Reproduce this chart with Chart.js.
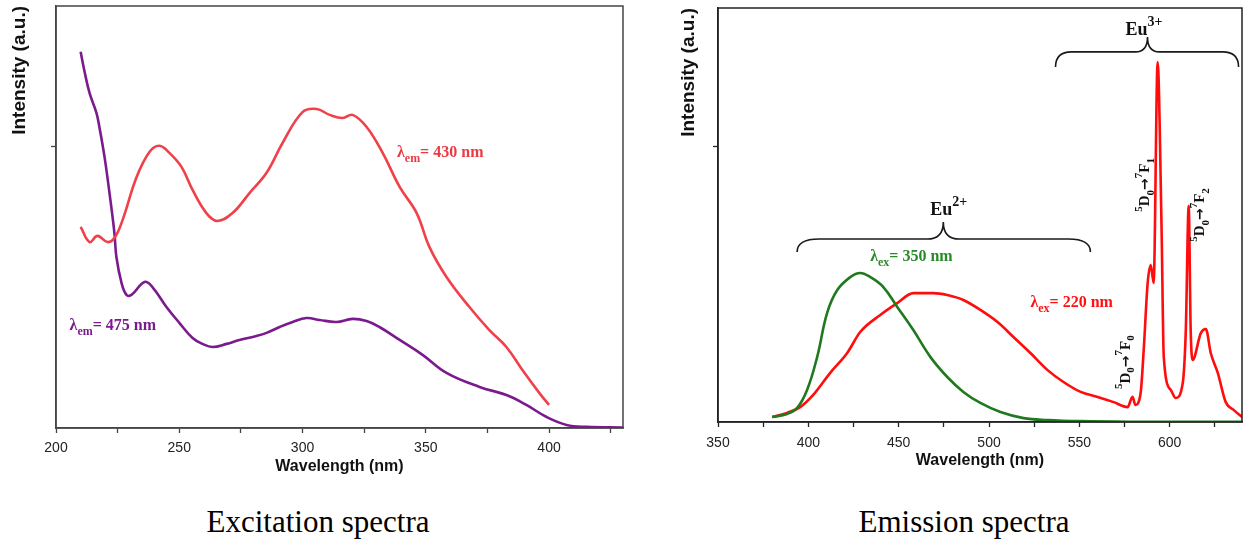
<!DOCTYPE html>
<html>
<head>
<meta charset="utf-8">
<title>Excitation and emission spectra</title>
<script src="https://cdn.jsdelivr.net/npm/chart.js@4.4.1/dist/chart.umd.min.js"></script>
<style>
  html, body { margin: 0; padding: 0; background: #fff; }
  #page { position: relative; width: 1250px; height: 544px; overflow: hidden; }
  canvas { position: absolute; top: 0; }
  #exc { left: 0; }
  #emi { left: 650px; }
  .caption {
    position: absolute; top: 506px; line-height: 31px;
    font-family: 'Liberation Serif', 'Times New Roman', serif; font-size: 31px;
    color: #000; white-space: nowrap; transform: translateX(-50%);
  }
</style>
</head>
<body>
<div id="page">
  <canvas id="exc" width="650" height="480"></canvas>
  <canvas id="emi" width="600" height="480"></canvas>
  <div class="caption" style="left:318px">Excitation spectra</div>
  <div class="caption" style="left:964px">Emission spectra</div>
</div>
<script>
// ---- excitation spectra (monitored at 430 nm and 475 nm) ----
var exc430X = [210, 213.6, 216.8, 220.9, 223.7, 227, 232.7, 237.9, 241.9, 246,
  250.9, 255.4, 261, 265.5, 271.6, 278.5, 285.4, 291.9, 300, 305.7,
  311, 316.3, 320.3, 326, 332.5, 339.4, 346.3, 351.5, 358.4, 367.7,
  375.8, 382.7, 389.2, 396.1, 400];
var exc430Y = [0.715, 0.661, 0.683, 0.661, 0.675, 0.739, 0.892, 0.981, 1.003, 0.978,
  0.928, 0.846, 0.764, 0.736, 0.764, 0.835, 0.907, 1.013, 1.123, 1.134,
  1.113, 1.102, 1.113, 1.070, 0.978, 0.857, 0.764, 0.643, 0.537, 0.430,
  0.348, 0.288, 0.206, 0.124, 0.082];

var exc475X = [210, 211.6, 213.6, 216.4, 217.6, 219.7, 221.7, 223.7, 224.5, 226.6,
  228.6, 230.6, 235.9, 239.1, 244.8, 250.1, 255.4, 259.4, 263.5, 269.2,
  274.4, 281.3, 285.4, 290.7, 296, 301.6, 306.9, 313.8, 320.3, 326,
  331.2, 339.4, 348.7, 358.4, 371.8, 382.7, 390.8, 399, 407.1, 415.2, 430];
var exc475Y = [1.337, 1.266, 1.191, 1.120, 1.070, 0.963, 0.835, 0.693, 0.608, 0.515,
  0.473, 0.473, 0.519, 0.501, 0.430, 0.373, 0.320, 0.299, 0.288, 0.299,
  0.313, 0.327, 0.338, 0.359, 0.377, 0.391, 0.384, 0.377, 0.388, 0.380,
  0.359, 0.313, 0.260, 0.196, 0.146, 0.117, 0.082, 0.039, 0.011, 0.004, 0.002];

// ---- emission spectra (excited at 350 nm and 220 nm) ----
var em350X = [380, 388.2, 393.8, 399.3, 404.9, 410.4, 416, 423.2, 428.7, 434.3,
  441.5, 449.2, 458.1, 467.5, 476.9, 485.8, 495.2, 506.3, 519.1, 532.4,
  550.7, 580, 610, 640];
var em350Y = [0.018, 0.029, 0.051, 0.116, 0.236, 0.395, 0.478, 0.525, 0.540, 0.525,
  0.489, 0.417, 0.333, 0.236, 0.163, 0.109, 0.069, 0.036, 0.014, 0.007,
  0.003, 0.001, 0.001, 0.001];

var em220X = [380, 388.2, 395.5, 402.7, 412.1, 421.5, 428.7, 439.8, 449.2, 458.1,
  469.2, 476.9, 485.8, 495.2, 504.7, 513.5, 522.9, 532.4, 541.2, 550.7,
  560.1, 569, 576.7, 579.4, 581, 583.9, 585.6, 587.8, 589.5, 591.1,
  593.3, 595.5, 596.7, 600.6, 603.3, 607.2, 608.9, 610.5, 611.6, 612.7,
  617.2, 620, 622.7, 626.6, 631, 635.5, 640];
var em220Y = [0.018, 0.033, 0.054, 0.098, 0.178, 0.250, 0.326, 0.388, 0.431, 0.467,
  0.467, 0.460, 0.442, 0.406, 0.362, 0.308, 0.250, 0.188, 0.145, 0.109,
  0.091, 0.072, 0.054, 0.091, 0.062, 0.105, 0.261, 0.504, 0.569, 0.504,
  1.304, 0.696, 0.236, 0.116, 0.087, 0.141, 0.333, 0.783, 0.333, 0.225,
  0.322, 0.337, 0.250, 0.178, 0.072, 0.043, 0.018];

// axis ticks
var excTicks = [200, 225, 250, 275, 300, 325, 350, 375, 400, 425];
var excTickLabels = [200, 250, 300, 350, 400];
var emiTicks = [350, 375, 400, 425, 450, 475, 500, 525, 550, 575, 600, 625];
var emiTickLabels = [350, 400, 450, 500, 550, 600];
var intensityTicks = [1];

var SANS = "'Liberation Sans', Arial, sans-serif";
var SERIF = "'Liberation Serif', 'Times New Roman', serif";
var ARROW_FONT = "'DejaVu Sans', sans-serif";

function zip(xs, ys) {
  return xs.map(function(x, i) { return { x: x, y: ys[i] }; });
}

function pieceFont(mode, size, small) {
  if (mode === 'arrow') return 'bold ' + Math.round(size * 0.95) + 'px ' + ARROW_FONT;
  return 'bold ' + (mode === 'sub' || mode === 'sup' ? small : size) + 'px ' + SERIF;
}

// draws text made of normal / sub / sup pieces, bold serif
function drawRich(ctx, parts, x, y, size, color, centered, smallScale) {
  var small = Math.round(size * (smallScale || 0.72));
  var widths = parts.map(function(p) {
    ctx.font = pieceFont(p[1], size, small);
    return ctx.measureText(p[0]).width;
  });
  var total = widths.reduce(function(a, b) { return a + b; }, 0);
  var cx = centered ? x - total / 2 : x;
  ctx.fillStyle = color;
  ctx.textBaseline = 'middle';
  ctx.textAlign = 'left';
  parts.forEach(function(p, i) {
    var dy = p[1] === 'sub' ? size * 0.35 : p[1] === 'sup' ? -size * 0.45 : 0;
    ctx.font = pieceFont(p[1], size, small);
    ctx.fillText(p[0], cx, y + dy);
    cx += widths[i];
  });
}

function drawBrace(ctx, x1, xm, x2, yEnd, yLine, yTip, rEnd, rTip) {
  ctx.beginPath();
  ctx.moveTo(x1, yEnd);
  ctx.quadraticCurveTo(x1, yLine, x1 + rEnd, yLine);
  ctx.lineTo(xm - rTip, yLine);
  ctx.quadraticCurveTo(xm, yLine, xm, yTip);
  ctx.quadraticCurveTo(xm, yLine, xm + rTip, yLine);
  ctx.lineTo(x2 - rEnd, yLine);
  ctx.quadraticCurveTo(x2, yLine, x2, yEnd);
  ctx.stroke();
}

// frame, braces and text notes placed in data coordinates
var specNotes = {
  id: 'specNotes',
  afterDatasetsDraw: function(chart, args, opts) {
    var ctx = chart.ctx, sx = chart.scales.x, sy = chart.scales.y, a = chart.chartArea;
    ctx.save();
    ctx.strokeStyle = opts.frameColor;
    ctx.lineWidth = 1.5;
    ctx.strokeRect(a.left, a.top, a.right - a.left, a.bottom - a.top);

    ctx.strokeStyle = '#1a1a1a';
    ctx.lineWidth = 1.6;
    (opts.braces || []).forEach(function(b) {
      drawBrace(ctx, sx.getPixelForValue(b.x1), sx.getPixelForValue(b.xm), sx.getPixelForValue(b.x2),
        sy.getPixelForValue(b.yEnd), sy.getPixelForValue(b.yLine), sy.getPixelForValue(b.yTip),
        b.rEnd, b.rTip);
    });

    (opts.labels || []).forEach(function(l) {
      var px = sx.getPixelForValue(l.x), py = sy.getPixelForValue(l.y);
      if (l.rotate) {
        ctx.save();
        ctx.translate(px, py);
        ctx.rotate(-Math.PI / 2);
        drawRich(ctx, l.parts, 0, 0, l.size, l.color, true, l.smallScale);
        ctx.restore();
      } else {
        drawRich(ctx, l.parts, px, py, l.size, l.color, false, l.smallScale);
      }
    });
    ctx.restore();
  }
};

function axisX(min, max, ticks, labels, frame, fitHeight, tickPad, titlePad) {
  return {
    type: 'linear', min: min, max: max,
    afterBuildTicks: function(s) { s.ticks = ticks.map(function(v) { return { value: v }; }); },
    ticks: {
      autoSkip: false, maxRotation: 0, padding: tickPad, color: '#222',
      font: { family: SANS, size: 14 },
      callback: function(v) { return labels.indexOf(v) >= 0 ? String(v) : ''; }
    },
    grid: { drawOnChartArea: false, drawTicks: true, tickLength: 5, tickColor: frame, tickWidth: 1.3 },
    border: { display: true, color: frame, width: 1.5 },
    title: {
      display: true, text: 'Wavelength (nm)', color: '#111',
      font: { family: SANS, size: 16, weight: 'bold' },
      padding: { top: 0, bottom: titlePad }
    },
    afterFit: function(s) { s.height = fitHeight; }
  };
}

function axisY(frame, fitWidth, titlePad) {
  return {
    type: 'linear', min: 0, max: 1.5,
    afterBuildTicks: function(s) { s.ticks = intensityTicks.map(function(v) { return { value: v }; }); },
    ticks: { display: false },
    grid: { drawOnChartArea: false, drawTicks: true, tickLength: 5, tickColor: frame, tickWidth: 1.3 },
    border: { display: true, color: frame, width: 1.5 },
    title: {
      display: true, text: 'Intensity (a.u.)', align: 'end', color: '#111',
      font: { family: SANS, size: 19, weight: 'bold' },
      padding: { top: titlePad, bottom: 0 }
    },
    afterFit: function(s) { s.width = fitWidth; }
  };
}

// smooth band curves use tension, the sharp Eu3+ lines keep monotone segments
function line(points, color, sharp) {
  var ds = {
    data: points, borderColor: color, borderWidth: 2.6,
    pointRadius: 0, fill: false
  };
  if (sharp) ds.cubicInterpolationMode = 'monotone';
  else ds.tension = 0.4;
  return ds;
}

var common = {
  responsive: false, animation: false, devicePixelRatio: 1, events: [],
  parsing: false
};

var ARROW_PARTS = function(n) {
  return [['5', 'sup'], ['D', ''], ['0', 'sub'], ['→', 'arrow'], ['7', 'sup'], ['F', ''], [n, 'sub']];
};

// ============ EXCITATION ============
new Chart(document.getElementById('exc'), {
  type: 'line',
  data: {
    datasets: [
      line(zip(exc430X, exc430Y), '#f0404a'),
      line(zip(exc475X, exc475Y), '#7b1a8e')
    ]
  },
  options: Object.assign({}, common, {
    layout: { padding: { top: 6, right: 27, left: 0, bottom: 0 } },
    scales: {
      x: axisX(200, 430, excTicks, excTickLabels, '#444', 52, 7, 4),
      y: axisY('#444', 56, 8)
    },
    plugins: {
      legend: { display: false },
      tooltip: { enabled: false },
      specNotes: {
        frameColor: '#444',
        labels: [
          { x: 338.3, y: 0.977, size: 16, color: '#ea3a44',
            parts: [['λ', ''], ['em', 'sub'], ['= 430 nm', '']] },
          { x: 205.5, y: 0.363, size: 16, color: '#7b1a8e',
            parts: [['λ', ''], ['em', 'sub'], ['= 475 nm', '']] }
        ]
      }
    }
  }),
  plugins: [specNotes]
});

// ============ EMISSION ============
new Chart(document.getElementById('emi'), {
  type: 'line',
  data: {
    datasets: [
      line(zip(em350X, em350Y), '#1f7a1f'),
      line(zip(em220X, em220Y), '#ff0c0c', true)
    ]
  },
  options: Object.assign({}, common, {
    layout: { padding: { top: 8, right: 8, left: 0, bottom: 0 } },
    scales: {
      x: axisX(350, 640, emiTicks, emiTickLabels, '#222', 58, 8, 10),
      y: axisY('#222', 68, 27)
    },
    plugins: {
      legend: { display: false },
      tooltip: { enabled: false },
      specNotes: {
        frameColor: '#222',
        braces: [
          { x1: 393.8, xm: 474.7, x2: 556.1, yEnd: 0.616, yLine: 0.663, yTip: 0.725, rEnd: 22, rTip: 16 },
          { x1: 536.8, xm: 587.7, x2: 638.1, yEnd: 1.286, yLine: 1.341, yTip: 1.395, rEnd: 16, rTip: 12 }
        ],
        labels: [
          { x: 467.5, y: 0.768, size: 18, color: '#111', smallScale: 0.8, parts: [['Eu', ''], ['2+', 'sup']] },
          { x: 575.5, y: 1.420, size: 18, color: '#111', smallScale: 0.8, parts: [['Eu', ''], ['3+', 'sup']] },
          { x: 434.2, y: 0.598, size: 16, color: '#2a8a2a',
            parts: [['λ', ''], ['ex', 'sub'], ['= 350 nm', '']] },
          { x: 522.9, y: 0.431, size: 16, color: '#ff1010',
            parts: [['λ', ''], ['ex', 'sub'], ['= 220 nm', '']] },
          { x: 576.0, y: 0.217, size: 15, color: '#111', rotate: true, parts: ARROW_PARTS('0') },
          { x: 586.6, y: 0.859, size: 15, color: '#111', rotate: true, parts: ARROW_PARTS('1') },
          { x: 617.0, y: 0.750, size: 15, color: '#111', rotate: true, parts: ARROW_PARTS('2') }
        ]
      }
    }
  }),
  plugins: [specNotes]
});
</script>
</body>
</html>
